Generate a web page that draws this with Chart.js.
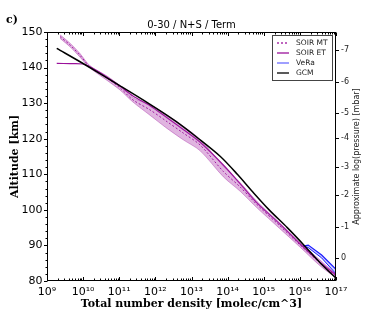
<!DOCTYPE html>
<html>
<head>
<meta charset="utf-8">
<script src="https://cdn.jsdelivr.net/npm/chart.js@4.4.0/dist/chart.umd.min.js"></script>
<style>
  html, body { margin: 0; padding: 0; background: #fff; }
  canvas { display: block; }
</style>
</head>
<body>
<canvas id="densityChart" width="374" height="312"></canvas>
<script>
// paksi dan label
const densityTicks = [1e9, 1e10, 1e11, 1e12, 1e13, 1e14, 1e15, 1e16, 1e17];
const densityLabels = ['10⁹', '10¹⁰', '10¹¹', '10¹²', '10¹³', '10¹⁴', '10¹⁵', '10¹⁶', '10¹⁷'];
const altitudeTicks = [80, 90, 100, 110, 120, 130, 140, 150];
const pressureLabels = ['-7', '-6', '-5', '-4', '-3', '-2', '-1', '0'];
const pressureAltitudes = [144.9, 135.9, 127.2, 120.2, 112.0, 104.2, 95.2, 86.5];
const legendLabels = ['SOIR MT', 'SOIR ET', 'VeRa', 'GCM'];

// GCM
const gcmDensity = [1.86e9, 1.05e10, 1.0e11, 6.3e11, 3.55e12, 1.58e13, 6.3e13, 1.86e14, 5.0e14, 1.41e15, 4.47e15, 1.32e16, 3.72e16, 1.0e17];
const gcmAlt = [145.4, 141.0, 135.0, 130.0, 125.0, 120.0, 115.0, 110.0, 105.0, 100.0, 95.0, 90.0, 85.0, 80.8];

// SOIR MT (garis putus + jalur)
const mtDensity = [2.3e9, 4.4e9, 8.1e9, 1.55e10, 4.6e10, 1.05e11, 2.4e11, 7.1e11, 2.1e12, 5.9e12, 1.74e13, 7.6e13, 2.24e14, 6.6e14, 2.8e15, 1.02e16, 3.6e16, 1.0e17];
const mtAlt = [148.7, 146.3, 143.5, 140.2, 137.0, 134.3, 130.9, 128.1, 124.8, 121.6, 118.2, 110.8, 106.4, 101.4, 95.5, 90.1, 85.1, 81.4];
const mtAltHi = [149.2, 146.8, 144.0, 140.5, 137.6, 134.9, 131.5, 129.6, 126.7, 123.5, 119.8, 112.3, 107.6, 102.3, 96.3, 90.7, 85.9, 81.9];
const mtAltLo = [148.2, 145.8, 143.0, 139.9, 136.4, 133.7, 130.3, 126.6, 122.9, 119.7, 116.6, 109.3, 105.2, 100.5, 94.7, 89.5, 84.3, 80.9];

// SOIR ET
const etDensity = [1.86e9, 4.4e9, 1.0e10, 1.55e10, 4.6e10, 1.05e11, 2.4e11, 7.1e11, 2.1e12, 5.9e12, 1.74e13, 7.6e13, 2.24e14, 6.6e14, 2.8e15, 1.02e16, 3.6e16, 1.0e17];
const etAlt = [141.2, 141.1, 141.0, 140.2, 137.3, 134.8, 132.0, 129.3, 125.9, 122.6, 119.0, 112.6, 107.3, 101.9, 96.0, 90.4, 85.3, 81.7];

// VeRa
const veraDensity = [1.23e16, 1.7e16, 4.0e16, 1.0e17];
const veraAltHi = [89.8, 90.1, 87.3, 83.3];
const veraAltLo = [89.8, 89.4, 86.5, 82.0];

const SANS = "'DejaVu Sans', sans-serif";
const SERIF = "'DejaVu Serif', serif";
const PURPLE = '#9b119b';

const pts = (xs, ys) => xs.map((x, i) => ({ x: x, y: ys[i] }));

// bingkai, tanda tick, legenda dan tajuk
const decorPlugin = {
    id: 'decor',
    afterDatasetsDraw(chart) {
        const { ctx, chartArea: a, scales } = chart;
        const L = Math.round(a.left) + 0.5, R = Math.round(a.right) - 0.5;
        const T = Math.round(a.top) + 0.5, B = Math.round(a.bottom) - 0.5;
        const line = (x1, y1, x2, y2) => { ctx.beginPath(); ctx.moveTo(x1, y1); ctx.lineTo(x2, y2); ctx.stroke(); };

        ctx.save();
        ctx.strokeStyle = '#000';
        ctx.lineWidth = 1;
        ctx.strokeRect(L, T, R - L, B - T);

        // kiri: major setiap 10 km, minor setiap 2 km
        for (let alt = 80; alt <= 150; alt += 2) {
            const py = Math.round(scales.y.getPixelForValue(alt)) + 0.5;
            line(L, py, L - (alt % 10 === 0 ? 3.5 : 2), py);
        }
        // kanan: tekanan
        pressureAltitudes.forEach(alt => {
            const py = Math.round(scales.y2.getPixelForValue(alt)) + 0.5;
            line(R, py, R + 3.5, py);
        });
        // atas & bawah: log ticks ke dalam
        densityTicks.forEach((d, i) => {
            const px = Math.round(scales.x.getPixelForValue(d)) + 0.5;
            line(px, B, px, B - 3.5);
            line(px, T, px, T + 3.5);
            if (i === densityTicks.length - 1) return;
            for (let m = 2; m <= 9; m++) {
                const qx = Math.round(scales.x.getPixelForValue(d * m)) + 0.5;
                line(qx, B, qx, B - 2);
                line(qx, T, qx, T + 2);
            }
        });

        // legenda
        const bx = Math.round(a.right) - 64, by = Math.round(a.top) + 3;
        ctx.fillStyle = '#fff';
        ctx.fillRect(bx, by, 61, 46);
        ctx.strokeStyle = '#444';
        ctx.strokeRect(bx + 0.5, by + 0.5, 60, 45);
        ctx.font = '7.5px ' + SANS;
        ctx.textBaseline = 'middle';
        ctx.textAlign = 'left';
        legendLabels.forEach((label, i) => {
            const ds = chart.data.datasets.find(d => d.label === label);
            const ry = by + 8 + i * 10;
            ctx.strokeStyle = ds.legendColor || ds.borderColor;
            ctx.lineWidth = 1.3;
            ctx.setLineDash(ds.borderDash || []);
            line(bx + 5, ry, bx + 17, ry);
            ctx.setLineDash([]);
            ctx.fillStyle = '#222';
            ctx.fillText(label, bx + 24, ry);
        });

        // tajuk
        ctx.fillStyle = '#000';
        ctx.textAlign = 'center';
        ctx.font = '10px ' + SANS;
        ctx.fillText('0-30 / N+S / Term', (a.left + a.right) / 2, 25.5);
        ctx.textAlign = 'left';
        ctx.font = 'bold 11px ' + SERIF;
        ctx.fillText('c)', 6, 20);

        // tajuk paksi kanan
        ctx.save();
        ctx.translate(357, (a.top + a.bottom) / 2);
        ctx.rotate(-Math.PI / 2);
        ctx.textAlign = 'center';
        ctx.font = '8px ' + SANS;
        ctx.fillStyle = '#222';
        ctx.fillText('Approximate log(pressure) [mbar]', 0, 0);
        ctx.restore();

        ctx.restore();
    }
};

const ctx = document.getElementById('densityChart');

const lineStyle = { pointRadius: 0, tension: 0.3 };

new Chart(ctx, {
    type: 'line',
    data: {
        datasets: [
            {
                label: 'GCM',
                data: pts(gcmDensity, gcmAlt),
                borderColor: '#000',
                borderWidth: 1.5,
                fill: false,
                ...lineStyle
            },
            {
                label: 'SOIR MT band hi',
                data: pts(mtDensity, mtAltHi),
                borderColor: 'rgba(155, 17, 155, 0.45)',
                borderWidth: 0.8,
                fill: false,
                ...lineStyle
            },
            {
                label: 'SOIR MT band lo',
                data: pts(mtDensity, mtAltLo),
                borderColor: 'rgba(155, 17, 155, 0.45)',
                backgroundColor: 'rgba(165, 40, 165, 0.35)',
                borderWidth: 0.8,
                fill: '-1',
                ...lineStyle
            },
            {
                label: 'SOIR MT',
                data: pts(mtDensity, mtAlt),
                borderColor: PURPLE,
                borderWidth: 1,
                borderDash: [2, 2],
                fill: false,
                ...lineStyle
            },
            {
                label: 'SOIR ET',
                data: pts(etDensity, etAlt),
                borderColor: PURPLE,
                borderWidth: 1.2,
                fill: false,
                ...lineStyle
            },
            {
                label: 'VeRa',
                data: pts(veraDensity, veraAltHi),
                borderColor: '#1a1aff',
                legendColor: '#6b6bff',
                borderWidth: 1.2,
                fill: false,
                pointRadius: 0
            },
            {
                label: 'VeRa lo',
                data: pts(veraDensity, veraAltLo),
                borderColor: '#1a1aff',
                backgroundColor: 'rgba(90, 90, 255, 0.3)',
                borderWidth: 1,
                fill: '-1',
                pointRadius: 0
            }
        ]
    },
    options: {
        responsive: false,
        animation: false,
        devicePixelRatio: 1,
        layout: { padding: { top: 32, right: 0, bottom: 0, left: 0 } },
        plugins: {
            legend: { display: false },
            tooltip: { enabled: false },
            title: { display: false }
        },
        scales: {
            x: {
                type: 'logarithmic',
                position: 'bottom',
                min: 1e9,
                max: 1e17,
                afterBuildTicks: s => { s.ticks = densityTicks.map(v => ({ value: v })); },
                afterFit: s => { s.height = 31; },
                grid: { display: false, drawTicks: false },
                border: { display: false },
                ticks: {
                    autoSkip: false,
                    maxRotation: 0,
                    padding: 4.4,
                    color: '#000',
                    font: { family: SANS, size: 11 },
                    callback: (v, i) => densityLabels[i]
                },
                title: {
                    display: true,
                    text: 'Total number density [molec/cm^3]',
                    color: '#000',
                    font: { family: SERIF, size: 11, weight: 'bold', lineHeight: 1.2 },
                    padding: { top: 0, bottom: 1.4 }
                }
            },
            y: {
                type: 'linear',
                position: 'left',
                min: 80,
                max: 150,
                afterBuildTicks: s => { s.ticks = altitudeTicks.map(v => ({ value: v })); },
                afterFit: s => { s.width = 47; },
                grid: { display: false, drawTicks: false },
                border: { display: false },
                ticks: {
                    padding: 4.5,
                    color: '#000',
                    font: { family: SANS, size: 11 }
                },
                title: {
                    display: true,
                    text: 'Altitude [km]',
                    color: '#000',
                    font: { family: SERIF, size: 11, weight: 'bold', lineHeight: 1.2 },
                    padding: { top: 8.4, bottom: 0 }
                }
            },
            y2: {
                type: 'linear',
                position: 'right',
                min: 80,
                max: 150,
                afterBuildTicks: s => { s.ticks = pressureAltitudes.map(v => ({ value: v })); },
                afterFit: s => { s.width = 38; },
                grid: { display: false, drawTicks: false },
                border: { display: false },
                ticks: {
                    padding: 5,
                    color: '#222',
                    font: { family: SANS, size: 8 },
                    callback: (v, i) => pressureLabels[i]
                }
            }
        }
    },
    plugins: [decorPlugin]
});
</script>
</body>
</html>
